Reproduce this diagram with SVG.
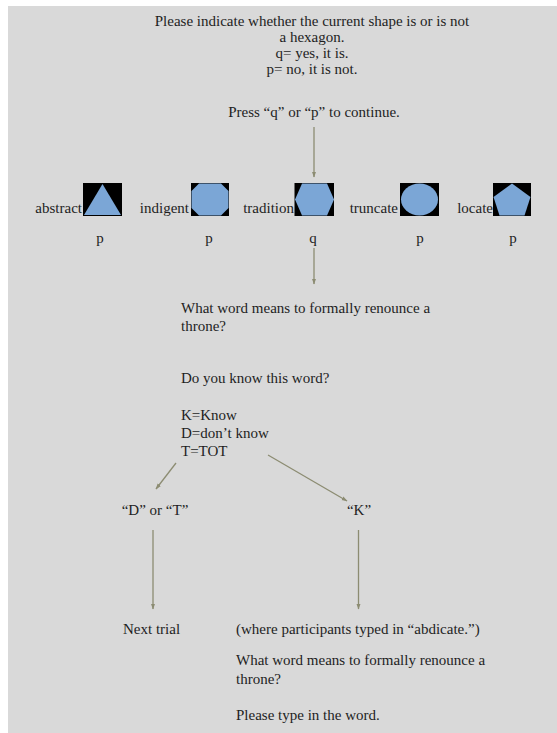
<svg xmlns="http://www.w3.org/2000/svg" width="557" height="733" viewBox="0 0 557 733">
<defs>
<style>
text{font-family:"Liberation Serif","Times New Roman",serif;font-size:15px;fill:#1e1e1e}
.c{text-anchor:middle}
.r{text-anchor:end}
.sq{fill:#000}
.sh{fill:#7ba6d6}
.ln{stroke:#8c8c72;stroke-width:1.3;fill:none;marker-end:url(#ah)}
</style>
<marker id="ah" viewBox="0 0 10 10" refX="9" refY="5" markerWidth="6" markerHeight="6" orient="auto" markerUnits="userSpaceOnUse">
<path d="M0,1.5 L10,5 L0,8.5 Z" fill="#8c8c72"/>
</marker>
</defs>
<rect x="0" y="0" width="557" height="733" fill="#fff"/>
<rect x="8" y="6" width="549" height="727" fill="#d9d9d9"/>

<g id="instructions">
<text class="c" x="312" y="26">Please indicate whether the current shape is or is not</text>
<text class="c" x="312" y="42">a hexagon.</text>
<text class="c" x="312" y="58">q= yes, it is.</text>
<text class="c" x="312" y="74">p= no, it is not.</text>
<text class="c" x="314" y="117">Press “q” or “p” to continue.</text>
</g>

<g id="abstract">
<text class="r" x="82" y="213">abstract</text>
<rect class="sq" x="83" y="183" width="39" height="33"/>
<polygon class="sh" points="102.5,184 121,215 84,215"/>
<text class="c" x="100" y="243">p</text>
</g>
<g id="indigent">
<text class="r" x="189" y="213">indigent</text>
<rect class="sq" x="191" y="183" width="38" height="33"/>
<polygon class="sh" points="199,183.5 221,183.5 228.5,191 228.5,208 221,215.5 199,215.5 191.5,208 191.5,191"/>
<text class="c" x="209" y="243">p</text>
</g>
<g id="tradition">
<text class="r" x="294" y="213">tradition</text>
<rect class="sq" x="294.5" y="183" width="39.5" height="33"/>
<polygon class="sh" points="302,183.5 327,183.5 334,199.5 327,215.5 302,215.5 295,199.5"/>
<text class="c" x="313" y="243">q</text>
</g>
<g id="truncate">
<text class="r" x="398" y="213">truncate</text>
<rect class="sq" x="400" y="183" width="39" height="33"/>
<ellipse class="sh" cx="419.5" cy="199.5" rx="18.5" ry="16"/>
<text class="c" x="420" y="243">p</text>
</g>
<g id="locate">
<text class="r" x="493" y="213">locate</text>
<rect class="sq" x="493" y="183" width="38" height="33"/>
<polygon class="sh" points="512,183.5 530.5,197 524.5,215.5 499.5,215.5 493.5,197"/>
<text class="c" x="513" y="243">p</text>
</g>

<g id="question">
<text x="181" y="313">What word means to formally renounce a</text>
<text x="181" y="331">throne?</text>
<text x="181" y="383">Do you know this word?</text>
<text x="181" y="420">K=Know</text>
<text x="181" y="438">D=don’t know</text>
<text x="181" y="456">T=TOT</text>
</g>

<g id="dt">
<text class="c" x="155" y="515">“D” or “T”</text>
</g>
<g id="k">
<text class="c" x="359" y="515">“K”</text>
</g>
<g id="next">
<text x="123" y="634">Next trial</text>
</g>
<g id="type">
<text x="236" y="634">(where participants typed in “abdicate.”)</text>
<text x="236" y="665">What word means to formally renounce a</text>
<text x="236" y="684">throne?</text>
<text x="236" y="720">Please type in the word.</text>
</g>

<g id="connectors">
<line class="ln" x1="314" y1="127" x2="314" y2="177"/>
<line class="ln" x1="314" y1="248" x2="314" y2="284"/>
<line class="ln" x1="176" y1="463" x2="156" y2="489"/>
<line class="ln" x1="268" y1="455" x2="347" y2="501"/>
<line class="ln" x1="153" y1="530" x2="153" y2="609"/>
<line class="ln" x1="358.5" y1="530" x2="358.5" y2="609"/>
</g>
</svg>
